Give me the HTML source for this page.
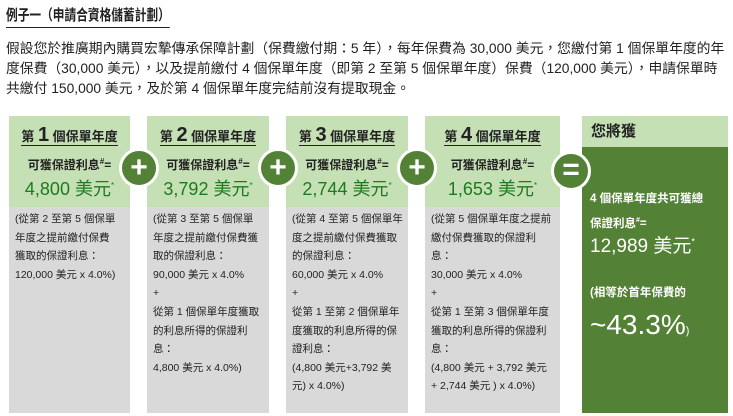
<!DOCTYPE html>
<html><head><meta charset="utf-8"><style>
*{margin:0;padding:0;box-sizing:border-box}
body{width:733px;height:416px;background:#fff;position:relative;overflow:hidden;font-family:"Liberation Sans","Noto Sans CJK TC",sans-serif;color:#222}
.a{position:absolute;white-space:nowrap}
.col{position:absolute;top:116px;height:297px;background:#d9d9d9}
.hd{position:absolute;left:0;top:0;width:100%;height:91px;background:#c5e0b4}
.t{position:absolute;left:0;width:100%;text-align:center;font-weight:bold}
.yr{top:8px;font-size:13px}
.yr span{border-bottom:1.5px solid #222;padding-bottom:1px}
.yr b{font-size:20px}
.lb{top:40px;font-size:12px}
.v{top:59px;font-size:18px;color:#1f7a1f;font-weight:normal}
.v sup,.lb sup{font-size:8px}
.body{position:absolute;left:6px;top:94px;font-size:10.5px;line-height:18.6px;white-space:nowrap;color:#222}
.c{position:absolute;width:40px;height:40px;border-radius:50%;background:#538135;border:3px solid #fff;color:#fff;font-size:30px;font-weight:bold;text-align:center;line-height:33px}
</style></head><body>
<div class="a" style="left:6px;top:4px;font-size:15px;font-weight:bold;border-bottom:1.5px solid #222;padding-bottom:2px;transform:scaleX(0.78);transform-origin:left top">例子一（申請合資格儲蓄計劃）</div>
<div class="a" style="left:6px;top:39px;font-size:13.8px;line-height:20px">假設您於推廣期內購買宏摯傳承保障計劃（保費繳付期：5 年），每年保費為 30,000 美元，您繳付第 1 個保單年度的年<br>度保費（30,000 美元），以及提前繳付 4 個保單年度（即第 2 至第 5 個保單年度）保費（120,000 美元），申請保單時<br>共繳付 150,000 美元，及於第 4 個保單年度完結前沒有提取現金。</div>

<div class="col" style="left:9px;width:121px"><div class="hd"></div>
<div class="t yr"><span>第 <b>1</b> 個保單年度</span></div><div class="t lb">可獲保證利息<sup>#</sup>=</div><div class="t v">4,800 美元<sup>*</sup></div>
<div class="body">(從第 2 至第 5 個保單<br>年度之提前繳付保費<br>獲取的保證利息：<br>120,000 美元 x 4.0%)</div></div>

<div class="col" style="left:147px;width:122px"><div class="hd"></div>
<div class="t yr"><span>第 <b>2</b> 個保單年度</span></div><div class="t lb">可獲保證利息<sup>#</sup>=</div><div class="t v">3,792 美元<sup>*</sup></div>
<div class="body">(從第 3 至第 5 個保單<br>年度之提前繳付保費獲<br>取的保證利息：<br>90,000 美元 x 4.0%<br>+<br>從第 1 個保單年度獲取<br>的利息所得的保證利<br>息：<br>4,800 美元 x 4.0%)</div></div>

<div class="col" style="left:286px;width:122px"><div class="hd"></div>
<div class="t yr"><span>第 <b>3</b> 個保單年度</span></div><div class="t lb">可獲保證利息<sup>#</sup>=</div><div class="t v">2,744 美元<sup>*</sup></div>
<div class="body">(從第 4 至第 5 個保單年<br>度之提前繳付保費獲取<br>的保證利息：<br>60,000 美元 x 4.0%<br>+<br>從第 1 至第 2 個保單年<br>度獲取的利息所得的保<br>證利息：<br>(4,800 美元+3,792 美<br>元) x 4.0%)</div></div>

<div class="col" style="left:425px;width:135px"><div class="hd"></div>
<div class="t yr"><span>第 <b>4</b> 個保單年度</span></div><div class="t lb">可獲保證利息<sup>#</sup>=</div><div class="t v">1,653 美元<sup>*</sup></div>
<div class="body">(從第 5 個保單年度之提前<br>繳付保費獲取的保證利<br>息：<br>30,000 美元 x 4.0%<br>+<br>從第 1 至第 3 個保單年度<br>獲取的利息所得的保證利<br>息：<br>(4,800 美元 + 3,792 美元<br>+ 2,744 美元 ) x 4.0%)</div></div>

<div style="position:absolute;left:582px;top:116px;width:146px;height:31px;background:#c5e0b4"></div>
<div style="position:absolute;left:582px;top:147px;width:146px;height:266px;background:#538135"></div>
<div class="a" style="left:591px;top:120px;font-size:15px;font-weight:bold">您將獲</div>
<div class="a" style="left:590px;top:189px;font-size:11.5px;font-weight:bold;color:#fff;line-height:21px">4 個保單年度共可獲總<br>保證利息<sup style="font-size:7px">#</sup>=</div>
<div class="a" style="left:590px;top:231px;font-size:19px;color:#fff">12,989 美元<sup style="font-size:9px">*</sup></div>
<div class="a" style="left:590px;top:284px;font-size:11.5px;font-weight:bold;color:#fff">(相等於首年保費的</div>
<div class="a" style="left:590px;top:309px;font-size:28px;color:#fff">~43.3%<span style="font-size:11px">)</span></div>

<div class="c" style="left:119px;top:148px">+</div>
<div class="c" style="left:258px;top:148px">+</div>
<div class="c" style="left:397px;top:148px">+</div>
<div class="c" style="left:551px;top:151px;line-height:31px">=</div>
</body></html>
